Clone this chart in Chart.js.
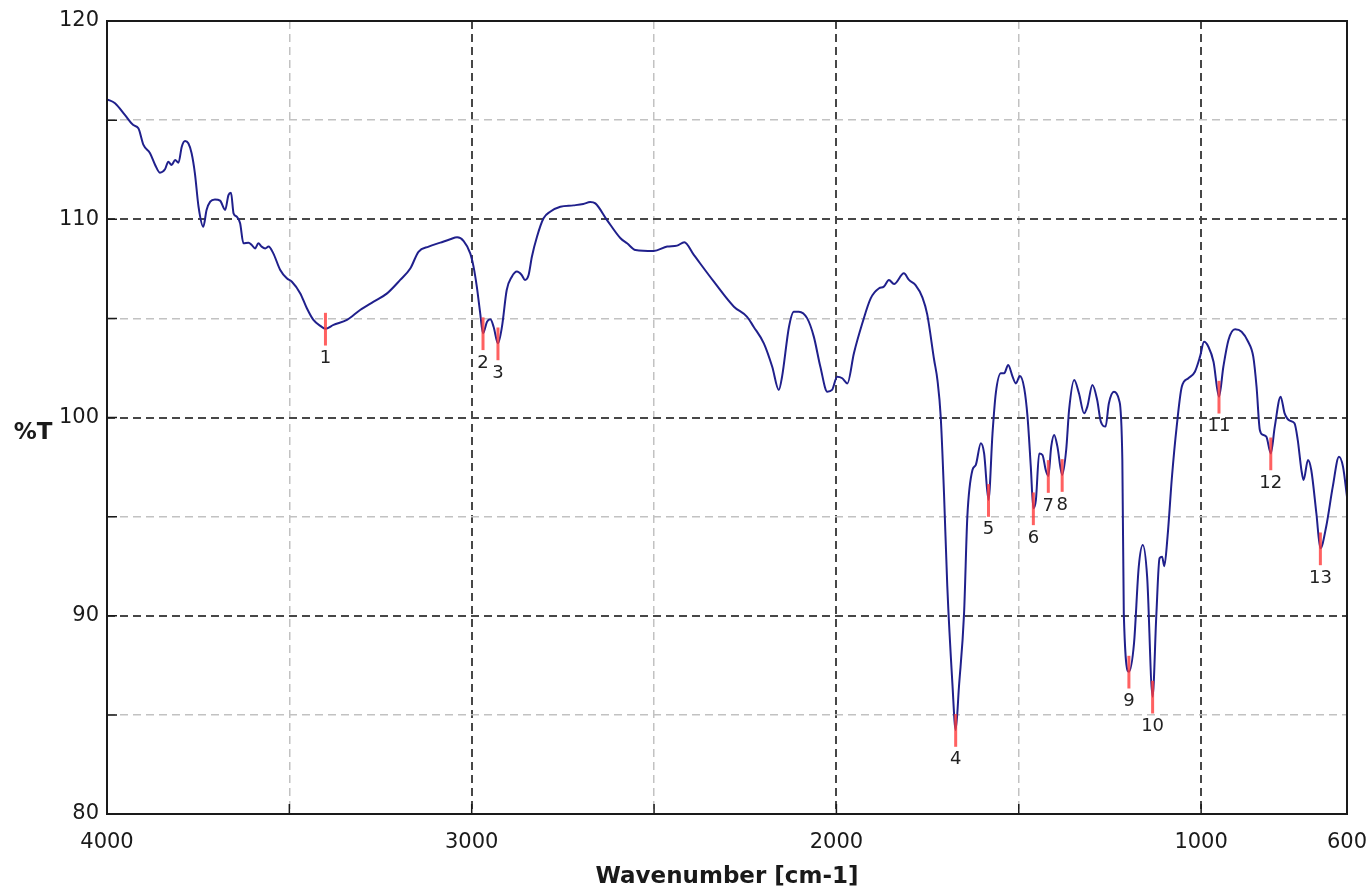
<!DOCTYPE html>
<html>
<head>
<meta charset="utf-8">
<title>IR spectrum</title>
<script src="https://cdn.jsdelivr.net/npm/chart.js@4"></script>
<style>
  html, body { margin: 0; padding: 0; background: #ffffff; }
  #wrap { width: 1366px; height: 888px; position: relative; }
</style>
</head>
<body>
<div id="wrap"><canvas id="spectrum"></canvas></div>
<script>
// Spectrum points, left (high wavenumber) to right
const wavenumbers = [
  4000, 3978, 3951, 3928, 3914, 3900, 3882, 3868, 3855, 3841, 3832, 3823, 3813, 3804,
  3795, 3786, 3777, 3768, 3759, 3749, 3736, 3727, 3717, 3704, 3690, 3676, 3667, 3660,
  3653, 3644, 3635, 3626, 3612, 3603, 3594, 3585, 3576, 3566, 3557, 3544, 3525, 3507,
  3493, 3470, 3452, 3434, 3415, 3401, 3379, 3342, 3306, 3269, 3232, 3196, 3168, 3146,
  3118, 3086, 3059, 3040, 3022, 3004, 2995, 2986, 2977, 2969, 2958, 2949, 2940, 2928,
  2917, 2904, 2890, 2876, 2863, 2854, 2844, 2835, 2821, 2803, 2785, 2757, 2721, 2694,
  2675, 2661, 2629, 2592, 2574, 2551, 2501, 2464, 2437, 2417, 2391, 2336, 2281, 2245,
  2227, 2199, 2176, 2158, 2149, 2130, 2117, 2103, 2080, 2062, 2044, 2025, 2012, 1998,
  1984, 1970, 1952, 1929, 1906, 1883, 1870, 1856, 1842, 1815, 1801, 1783, 1764, 1751,
  1732, 1723, 1714, 1705, 1696, 1682, 1673, 1664, 1650, 1641, 1627, 1618, 1604, 1595,
  1583, 1572, 1563, 1549, 1540, 1529, 1517, 1508, 1497, 1485, 1476, 1467, 1460, 1453,
  1444, 1435, 1426, 1419, 1411, 1403, 1394, 1381, 1370, 1362, 1348, 1335, 1321, 1312,
  1298, 1285, 1275, 1262, 1253, 1239, 1225, 1216, 1212, 1198, 1184, 1171, 1160, 1148,
  1133, 1123, 1114, 1107, 1101, 1092, 1080, 1067, 1053, 1035, 1017, 1003, 992, 980,
  966, 951, 939, 925, 907, 889, 871, 857, 848, 839, 830, 821, 809, 798,
  782, 771, 757, 744, 735, 725, 719, 707, 698, 684, 673, 657, 639, 622,
  611, 600
];
const transmittance = [
  116.05, 115.85, 115.26, 114.75, 114.59, 113.75, 113.33, 112.74, 112.35, 112.52, 112.90, 112.74, 112.99, 112.85,
  113.66, 113.95, 113.83, 113.33, 112.32, 110.63, 109.62, 110.47, 110.89, 111.00, 110.94, 110.47, 111.22, 111.34,
  110.30, 110.13, 109.80, 108.79, 108.82, 108.70, 108.53, 108.79, 108.62, 108.53, 108.62, 108.28, 107.44, 107.02,
  106.85, 106.26, 105.51, 104.92, 104.62, 104.48, 104.67, 104.92, 105.42, 105.84, 106.26, 106.94, 107.53, 108.36,
  108.62, 108.82, 108.99, 109.09, 108.90, 108.28, 107.61, 106.60, 105.30, 104.25, 104.83, 104.95, 104.58, 103.74,
  104.58, 106.43, 107.10, 107.36, 107.19, 106.94, 107.19, 108.11, 109.12, 110.05, 110.38, 110.63, 110.70, 110.77,
  110.87, 110.80, 109.96, 109.04, 108.79, 108.45, 108.40, 108.62, 108.67, 108.84, 108.20, 106.85, 105.59, 105.08,
  104.58, 103.74, 102.56, 101.39, 102.06, 104.58, 105.34, 105.34, 105.00, 104.08, 102.56, 101.30, 101.39, 102.06,
  101.98, 101.72, 103.24, 104.75, 106.01, 106.52, 106.60, 106.94, 106.73, 107.27, 106.94, 106.68, 106.05, 105.20,
  102.90, 101.89, 100.04, 96.18, 91.50, 86.59, 84.24, 86.42, 90.12, 95.00, 97.35, 97.60, 98.70, 98.19,
  95.84, 99.20, 101.22, 102.23, 102.23, 102.65, 102.06, 101.72, 102.09, 101.47, 100.04, 97.52, 95.42, 95.84,
  98.19, 98.11, 97.35, 97.05, 98.53, 99.12, 98.53, 97.10, 98.36, 100.38, 101.89, 101.22, 100.21, 100.55,
  101.64, 100.88, 99.79, 99.54, 100.71, 101.30, 100.88, 97.86, 90.12, 87.18, 88.61, 92.47, 93.57, 91.97,
  85.92, 89.95, 92.90, 92.98, 92.50, 94.00, 97.00, 99.54, 101.55, 101.98, 102.31, 103.07, 103.82, 103.57,
  102.81, 101.05, 102.56, 103.91, 104.45, 104.33, 103.82, 103.07, 101.55, 99.37, 99.12, 99.03, 98.19, 99.54,
  101.05, 100.21, 99.84, 99.71, 98.86, 97.35, 96.85, 97.86, 97.35, 95.17, 93.40, 94.50, 96.51, 98.02,
  97.52, 96.00
];

// Picked absorption peaks
const peakNumbers = [1, 2, 3, 4, 5, 6, 7, 8, 9, 10, 11, 12, 13];
const peakWavenumbers = [3401, 2969, 2928, 1673, 1583, 1460, 1419, 1381, 1198, 1133, 951, 809, 673];
const peakTransmittance = [104.48, 104.25, 103.74, 84.24, 95.84, 95.42, 97.05, 97.10, 87.18, 85.92, 101.05, 98.19, 93.40];

// Grid positions and labelled ticks
const xGridValues = [4000, 3500, 3000, 2500, 2000, 1500, 1000, 600];
const xTickLabels = [4000, 3000, 2000, 1000, 600];
const yGridValues = [80, 85, 90, 95, 100, 105, 110, 115, 120];
const yTickLabels = [80, 90, 100, 110, 120];

const FONT = 'DejaVu Sans';
const MAJOR_GRID = '#474747';
const MINOR_GRID = '#c2c2c2';
const CLEAR = 'rgba(0,0,0,0)';

const xEdge = v => v === 600 || v === 4000;
const yEdge = v => v === 80 || v === 120;

// Frame, inward tick marks and the %T caption
const framePlugin = {
  id: 'frame',
  afterDraw(chart) {
    const { ctx, chartArea: a, scales } = chart;
    ctx.save();
    ctx.strokeStyle = '#1a1a1a';
    ctx.lineWidth = 1.5;
    ctx.beginPath();
    scales.x.ticks.forEach(t => {
      const px = scales.x.getPixelForValue(t.value);
      ctx.moveTo(px, a.bottom);
      ctx.lineTo(px, a.bottom - 10);
    });
    scales.y.ticks.forEach(t => {
      const py = scales.y.getPixelForValue(t.value);
      ctx.moveTo(a.left, py);
      ctx.lineTo(a.left + 10, py);
    });
    ctx.stroke();
    ctx.lineWidth = 2;
    ctx.strokeRect(a.left, a.top, a.right - a.left, a.bottom - a.top);
    ctx.fillStyle = '#1a1a1a';
    ctx.font = 'bold 23px "' + FONT + '"';
    ctx.textAlign = 'center';
    ctx.textBaseline = 'middle';
    ctx.fillText('%T', 33, (a.top + a.bottom) / 2 + 16);
    ctx.restore();
  }
};

// Red peak markers with their numbers underneath
const peakPlugin = {
  id: 'peaks',
  afterDatasetsDraw(chart) {
    const { ctx, scales } = chart;
    ctx.save();
    ctx.font = '18px "' + FONT + '"';
    ctx.textAlign = 'center';
    ctx.textBaseline = 'middle';
    peakNumbers.forEach((n, i) => {
      const px = scales.x.getPixelForValue(peakWavenumbers[i]);
      const yTop = scales.y.getPixelForValue(peakTransmittance[i] + 0.8);
      const yBot = scales.y.getPixelForValue(peakTransmittance[i] - 0.85);
      ctx.globalAlpha = 0.8;
      ctx.strokeStyle = '#ff3a3a';
      ctx.lineWidth = 3;
      ctx.beginPath();
      ctx.moveTo(px, yTop);
      ctx.lineTo(px, yBot);
      ctx.stroke();
      ctx.globalAlpha = 1;
      ctx.fillStyle = '#222222';
      ctx.fillText(String(n), px, yBot + 13);
    });
    ctx.restore();
  }
};

new Chart(document.getElementById('spectrum'), {
  type: 'line',
  data: {
    datasets: [{
      label: '%T',
      data: wavenumbers.map((w, i) => ({ x: w, y: transmittance[i] })),
      borderColor: '#20208c',
      borderWidth: 2,
      pointRadius: 0,
      fill: false,
      cubicInterpolationMode: 'monotone'
    }]
  },
  options: {
    responsive: true,
    maintainAspectRatio: false,
    animation: false,
    events: [],
    layout: { padding: { top: 21, left: 0, right: 0, bottom: 0 } },
    plugins: {
      legend: { display: false },
      tooltip: { enabled: false }
    },
    scales: {
      x: {
        type: 'linear',
        reverse: true,
        min: 600,
        max: 4000,
        afterBuildTicks(scale) { scale.ticks = xGridValues.map(v => ({ value: v })); },
        afterFit(scale) { scale.height = 74; scale.paddingRight = 19; scale.paddingLeft = 0; },
        ticks: {
          autoSkip: false,
          maxRotation: 0,
          padding: 16,
          color: '#1a1a1a',
          font: { family: FONT, size: 21 },
          callback: v => xTickLabels.includes(v) ? String(v) : ''
        },
        grid: {
          drawTicks: false,
          color: c => (c.tick && !xEdge(c.tick.value)) ? (c.tick.value % 1000 === 0 ? MAJOR_GRID : MINOR_GRID) : CLEAR,
          lineWidth: c => (c.tick && c.tick.value % 1000 === 0) ? 2 : 1.5
        },
        border: { display: false, dash: [8, 5] },
        title: {
          display: true,
          text: 'Wavenumber [cm-1]',
          color: '#1a1a1a',
          font: { family: FONT, size: 23, weight: 'bold' },
          padding: { top: 0, bottom: -3 }
        }
      },
      y: {
        type: 'linear',
        min: 80,
        max: 120,
        afterBuildTicks(scale) { scale.ticks = yGridValues.map(v => ({ value: v })); },
        afterFit(scale) { scale.width = 107; },
        ticks: {
          autoSkip: false,
          padding: 8,
          color: '#1a1a1a',
          font: { family: FONT, size: 21 },
          callback: v => yTickLabels.includes(v) ? String(v) : ''
        },
        grid: {
          drawTicks: false,
          color: c => (c.tick && !yEdge(c.tick.value)) ? (c.tick.value % 10 === 0 ? MAJOR_GRID : MINOR_GRID) : CLEAR,
          lineWidth: c => (c.tick && c.tick.value % 10 === 0) ? 2 : 1.5
        },
        border: { display: false, dash: [8, 5] }
      }
    }
  },
  plugins: [framePlugin, peakPlugin]
});
</script>
</body>
</html>
